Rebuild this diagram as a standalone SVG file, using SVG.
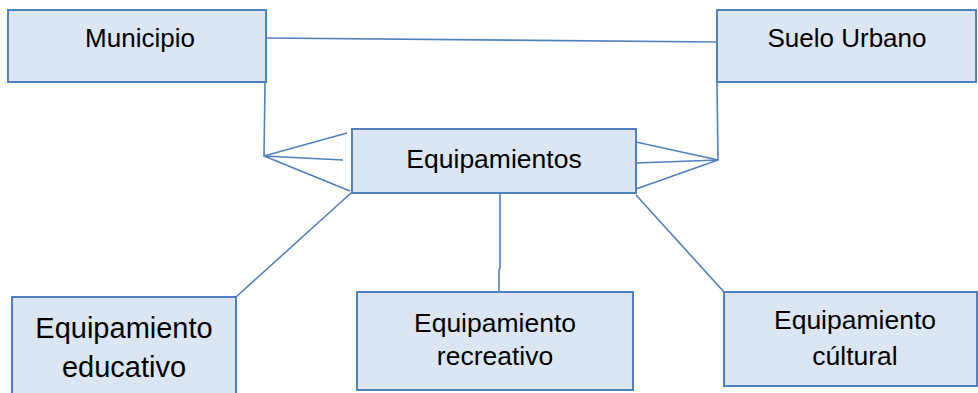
<svg xmlns="http://www.w3.org/2000/svg" width="978" height="393" viewBox="0 0 978 393">
<style>
.box{fill:#dce6f2;stroke:#4f81bd;stroke-width:2}
.lbl{font-family:"Liberation Sans",Arial,sans-serif;fill:#000;text-anchor:middle}
.c{stroke:#4f81bd;stroke-width:1.6;fill:none}
</style>
<rect width="978" height="393" fill="#fff"/>
<g id="connectors">
<line class="c" x1="266" y1="38" x2="717" y2="42"/>
<polyline class="c" points="265,83 264,156 347,133"/>
<line class="c" x1="264" y1="156" x2="343" y2="160"/>
<line class="c" x1="264" y1="156" x2="350" y2="191"/>
<polyline class="c" points="717,83 718,160 636,142"/>
<line class="c" x1="718" y1="160" x2="636" y2="163"/>
<line class="c" x1="718" y1="160" x2="636" y2="189"/>
<line class="c" x1="351" y1="193" x2="236" y2="297"/>
<polyline class="c" points="500,194 500,268 499,270 499,292"/>
<line class="c" x1="636" y1="195" x2="724" y2="292"/>
</g>
<g id="municipio">
<rect class="box" x="8" y="10" width="258" height="72"/>
<text class="lbl" x="140" y="47" font-size="26">Municipio</text>
</g>
<g id="suelo-urbano">
<rect class="box" x="717" y="10" width="259" height="72"/>
<text class="lbl" x="847" y="47" font-size="26">Suelo Urbano</text>
</g>
<g id="equipamientos">
<rect class="box" x="352" y="129" width="284" height="64"/>
<text class="lbl" x="494" y="168" font-size="26.5">Equipamientos</text>
</g>
<g id="educativo">
<rect class="box" x="12" y="297" width="224" height="100"/>
<text class="lbl" x="124" y="338" font-size="29">Equipamiento</text>
<text class="lbl" x="124" y="377" font-size="29">educativo</text>
</g>
<g id="recreativo">
<rect class="box" x="357" y="292" width="276" height="98"/>
<text class="lbl" x="495" y="332" font-size="26.5">Equipamiento</text>
<text class="lbl" x="495" y="365" font-size="26.5">recreativo</text>
</g>
<g id="cultural">
<rect class="box" x="724" y="292" width="253" height="94"/>
<text class="lbl" x="855" y="329" font-size="26.5">Equipamiento</text>
<text class="lbl" x="855" y="365" font-size="26.5">cúltural</text>
</g>
</svg>
